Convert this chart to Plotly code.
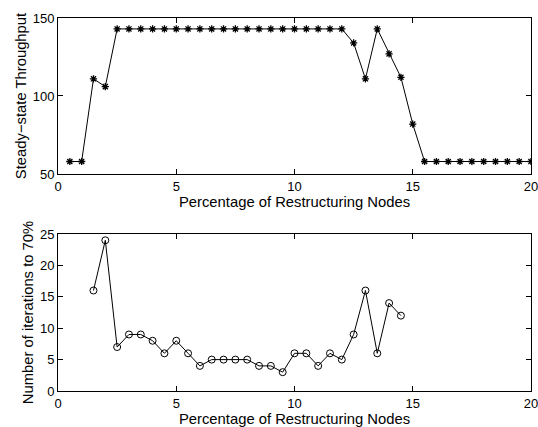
import plotly.graph_objects as go
from plotly.subplots import make_subplots

# Top panel data
pct_top = [0.5, 1.0, 1.5, 2.0, 2.5, 3.0, 3.5, 4.0, 4.5, 5.0, 5.5, 6.0, 6.5, 7.0, 7.5, 8.0,
           8.5, 9.0, 9.5, 10.0, 10.5, 11.0, 11.5, 12.0, 12.5, 13.0, 13.5, 14.0, 14.5, 15.0,
           15.5, 16.0, 16.5, 17.0, 17.5, 18.0, 18.5, 19.0, 19.5, 20.0]
throughput = [58, 58, 111, 106, 143, 143, 143, 143, 143, 143, 143, 143, 143, 143, 143, 143,
              143, 143, 143, 143, 143, 143, 143, 143, 134, 111, 143, 127, 112, 82,
              58, 58, 58, 58, 58, 58, 58, 58, 58, 58]

# Bottom panel data
pct_bot = [1.5, 2.0, 2.5, 3.0, 3.5, 4.0, 4.5, 5.0, 5.5, 6.0, 6.5, 7.0, 7.5, 8.0, 8.5, 9.0,
           9.5, 10.0, 10.5, 11.0, 11.5, 12.0, 12.5, 13.0, 13.5, 14.0, 14.5]
iterations = [16, 24, 7, 9, 9, 8, 6, 8, 6, 4, 5, 5, 5, 5, 4, 4,
              3, 6, 6, 4, 6, 5, 9, 16, 6, 14, 12]

x_ticks = [0, 5, 10, 15, 20]
top_yticks = [50, 100, 150]
bot_yticks = [0, 5, 10, 15, 20, 25]

FONT = "Liberation Sans, Arial, Helvetica, sans-serif"
TICK_SIZE = 13
TITLE_SIZE = 14.8

fig = make_subplots(rows=2, cols=1)
fig.add_trace(go.Scatter(x=pct_top, y=throughput, mode="lines+markers",
                         line=dict(color="black", width=1),
                         marker=dict(symbol="asterisk-open", size=6, color="black",
                                     line=dict(color="black", width=1.3))),
              row=1, col=1)
fig.add_trace(go.Scatter(x=pct_bot, y=iterations, mode="lines+markers",
                         line=dict(color="black", width=1),
                         marker=dict(symbol="circle-open", size=7, color="black",
                                     line=dict(color="black", width=1))),
              row=2, col=1)

axis_common = dict(showline=True, linecolor="black", linewidth=1, mirror="ticks",
                   ticks="inside", ticklen=5, tickcolor="black", showgrid=False,
                   zeroline=False, ticklabelstandoff=0, ticklabeloverflow="allow",
                   automargin=False,
                   tickfont=dict(family=FONT, size=TICK_SIZE, color="black"))

xtitle = dict(text="Percentage of Restructuring Nodes", standoff=0,
              font=dict(family=FONT, size=TITLE_SIZE))

fig.update_layout(
    width=538, height=427,
    margin=dict(l=58, r=7, t=18, b=36),
    paper_bgcolor="white", plot_bgcolor="white",
    showlegend=False,
    font=dict(family=FONT, size=TICK_SIZE, color="black"),
    xaxis=dict(domain=[0, 1], range=[0, 20], tickvals=x_ticks, title=xtitle,
               **axis_common),
    yaxis=dict(domain=[0.5818, 1], range=[50, 150], tickvals=top_yticks,
               title=dict(text="Steady\u2212state Throughput", standoff=2,
                          font=dict(family=FONT, size=TITLE_SIZE)),
               **axis_common),
    xaxis2=dict(domain=[0, 1], range=[0, 20], tickvals=x_ticks, title=xtitle,
                **axis_common),
    yaxis2=dict(domain=[0, 0.4209], range=[0, 25], tickvals=bot_yticks,
                title=dict(text="Number of iterations to 70%", standoff=2,
                           font=dict(family=FONT, size=TITLE_SIZE)),
                **axis_common),
)

fig.write_html("out.html")
